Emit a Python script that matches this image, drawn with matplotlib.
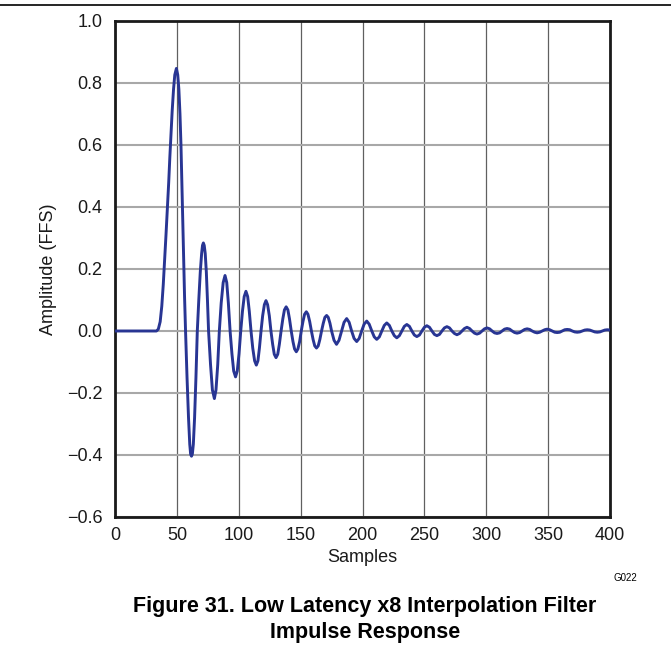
import matplotlib
matplotlib.use("Agg")
import matplotlib.pyplot as plt

plt.rcParams['font.family'] = ['Liberation Sans', 'DejaVu Sans']

# impulse response: (sample, amplitude) points
samples = [
    0, 33.5, 35.0, 36.5, 37.8, 39.0, 40.0, 41.2, 42.4, 43.4, 44.3, 45.2, 46.2, 47.3, 48.3,
    49.6, 50.7, 51.6, 52.5, 53.3, 54.1, 54.8, 55.5, 56.2, 57.0,
    58.2, 59.4, 60.4, 61.1, 61.8, 62.5, 63.3, 64.3, 65.4, 66.5,
    67.7, 68.9, 70.0, 70.7, 71.4, 72.1, 72.9, 73.8, 74.7, 75.6,
    77.2, 78.7, 80.3, 81.6, 83.0, 84.3,
    85.8, 87.4, 88.9, 90.3, 91.6, 93.0,
    94.5, 95.9, 97.4, 98.8, 100.2, 101.6,
    103.0, 104.4, 105.8, 107.2, 108.5, 109.9,
    111.3, 112.8, 114.2, 115.5, 116.7, 118.0,
    119.3, 120.7, 122.0, 123.3, 124.7, 126.0,
    127.4, 128.7, 130.1, 131.5, 132.8, 134.2,
    135.6, 136.9, 138.3, 139.7, 141.0, 142.4,
    143.8, 145.1, 146.5, 147.8, 149.2, 150.5,
    151.9, 153.2, 154.6, 155.9, 157.3, 158.7,
    160.1, 161.4, 162.8, 164.2, 165.5, 166.9,
    168.3, 169.6, 171.0, 172.3, 173.7, 175.0,
    177.0, 179.0, 181.0, 183.1,
    185.1, 187.2, 189.2, 191.2,
    193.2, 195.3, 197.3, 199.3,
    201.3, 203.4, 205.4, 207.5,
    209.5, 211.5, 213.6, 215.6,
    217.6, 219.6, 221.7, 223.7,
    225.7, 227.7, 229.8, 231.8,
    233.8, 235.8, 237.9, 239.9,
    241.9, 243.9, 246.0, 248.0,
    250.0, 252.0, 254.1, 256.1,
    258.1, 260.1, 262.2, 264.2,
    266.2, 268.2, 270.3, 272.3,
    274.3, 276.3, 278.4, 280.4,
    282.4, 284.4, 286.5, 288.5,
    290.5, 292.5, 294.6, 296.6,
    298.6, 300.6, 302.7, 304.7,
    306.7, 308.7, 310.8, 312.8,
    314.8, 316.8, 318.9, 320.9,
    322.9, 324.9, 327.0, 329.0,
    331.0, 333.0, 335.1, 337.1,
    339.1, 341.1, 343.2, 345.2,
    347.2, 349.2, 351.3, 353.3,
    355.3, 357.3, 359.4, 361.4,
    363.4, 365.4, 367.5, 369.5,
    371.5, 373.5, 375.6, 377.6,
    379.6, 381.6, 383.7, 385.7,
    387.7, 389.7, 391.8, 393.8,
    395.8, 397.8, 400.0,
]
amplitude = [
    0, 0, 0.006, 0.03, 0.08, 0.15, 0.22, 0.31, 0.40, 0.48, 0.56, 0.63, 0.71, 0.78, 0.826,
    0.847, 0.826, 0.78, 0.70, 0.60, 0.47, 0.35, 0.23, 0.11, 0.0,
    -0.15, -0.28, -0.365, -0.397, -0.404, -0.397, -0.365, -0.28, -0.15, 0.0,
    0.10, 0.19, 0.25, 0.276, 0.284, 0.276, 0.25, 0.19, 0.10, 0.0,
    -0.109, -0.190, -0.218, -0.190, -0.109, 0.0,
    0.090, 0.156, 0.179, 0.156, 0.090, 0.0,
    -0.074, -0.129, -0.148, -0.129, -0.074, 0.0,
    0.064, 0.111, 0.128, 0.111, 0.064, 0.0,
    -0.055, -0.096, -0.110, -0.096, -0.055, 0.0,
    0.049, 0.085, 0.098, 0.085, 0.049, 0.0,
    -0.043, -0.075, -0.086, -0.075, -0.043, 0.0,
    0.039, 0.068, 0.078, 0.068, 0.039, 0.0,
    -0.034, -0.058, -0.067, -0.058, -0.034, 0.0,
    0.031, 0.054, 0.062, 0.054, 0.031, 0.0,
    -0.028, -0.048, -0.055, -0.048, -0.028, 0.0,
    0.025, 0.044, 0.050, 0.044, 0.025, 0.0,
    -0.030, -0.043, -0.030, 0.0,
    0.028, 0.040, 0.028, 0.0,
    -0.024, -0.034, -0.024, 0.0,
    0.022, 0.032, 0.022, 0.0,
    -0.019, -0.027, -0.019, 0.0,
    0.018, 0.026, 0.018, 0.0,
    -0.015, -0.022, -0.015, 0.0,
    0.015, 0.021, 0.015, 0.0,
    -0.013, -0.018, -0.013, 0.0,
    0.012, 0.017, 0.012, 0.0,
    -0.011, -0.015, -0.011, 0.0,
    0.010, 0.014, 0.010, 0.0,
    -0.008, -0.012, -0.008, 0.0,
    0.008, 0.012, 0.008, 0.0,
    -0.007, -0.010, -0.007, 0.0,
    0.007, 0.010, 0.007, 0.0,
    -0.006, -0.008, -0.006, 0.0,
    0.006, 0.008, 0.006, 0.0,
    -0.005, -0.007, -0.005, 0.0,
    0.005, 0.007, 0.005, 0.0,
    -0.004, -0.006, -0.004, 0.0,
    0.004, 0.006, 0.004, 0.0,
    -0.004, -0.005, -0.004, 0.0,
    0.004, 0.005, 0.004, 0.0,
    -0.003, -0.004, -0.003, 0.0,
    0.003, 0.004, 0.003, 0.0,
    -0.003, -0.004, -0.003, 0.0,
    0.003, 0.004, 0.003,
]

x_ticks = [0, 50, 100, 150, 200, 250, 300, 350, 400]
y_ticks = [-0.6, -0.4, -0.2, 0.0, 0.2, 0.4, 0.6, 0.8, 1.0]

fig = plt.figure(figsize=(6.71, 6.56), dpi=100)
ax = fig.add_axes([0.1714, 0.2119, 0.7377, 0.7561])

ax.plot(samples, amplitude, color='#283593', lw=2.1, solid_joinstyle='round', zorder=3)

ax.set_xlim(0, 400)
ax.set_ylim(-0.6, 1.0)
ax.set_xticks(x_ticks)
ax.set_yticks(y_ticks)
ax.set_yticklabels([f'{v:.1f}'.replace('-', '\u2212') for v in y_ticks])
ax.tick_params(length=0, labelsize=13, pad=7, labelcolor='#1a1a1a')
ax.tick_params(axis='y', pad=9)

# vertical grid darker and thin, horizontal lighter and thicker
ax.xaxis.grid(True, color='#606060', lw=0.9)
ax.yaxis.grid(True, color='#a8a8a8', lw=1.5)
ax.set_axisbelow(True)
for s in ax.spines.values():
    s.set_linewidth(2.0)
    s.set_color('#1a1a1a')

ax.set_xlabel('Samples', fontsize=13, labelpad=4, color='#1a1a1a')
ax.set_ylabel('Amplitude (FFS)', fontsize=13, labelpad=7, color='#1a1a1a')

# rule across the top of the page
fig.add_artist(plt.Line2D([0, 1], [0.9924, 0.9924], color='black', lw=1.2))

fig.text(0.932, 0.119, 'G022', fontsize=7, ha='center', va='center')
fig.text(0.544, 0.0675, 'Figure 31. Low Latency x8 Interpolation Filter',
         fontsize=15.5, fontweight='bold', ha='center', va='baseline')
fig.text(0.544, 0.0279, 'Impulse Response',
         fontsize=15.5, fontweight='bold', ha='center', va='baseline')

fig.savefig('out.png', dpi=100)
